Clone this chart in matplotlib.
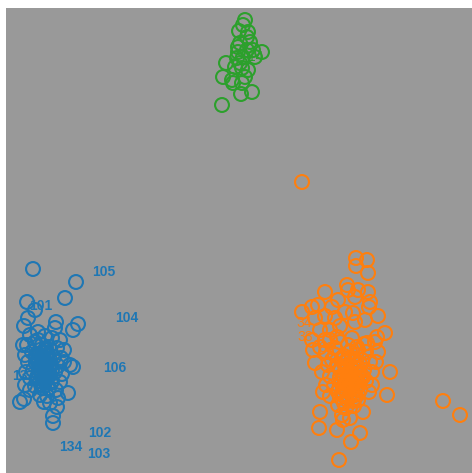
import matplotlib.pyplot as plt

# point positions (x to the right, y downwards)
blue_x = [33, 76, 65, 27, 35, 24, 56, 55, 78, 73, 70, 73, 20, 24, 68, 53, 53, 57, 50,
          30, 38, 45, 52, 60, 27, 35, 42, 49, 57, 64, 25, 32, 40, 47, 54, 61, 28, 36,
          43, 50, 58, 33, 40, 47, 55, 62, 30, 38, 45, 52, 60, 35, 42, 49, 56, 40, 47,
          44, 38, 45, 50, 42, 36, 48, 26, 30, 64, 58, 28, 23, 25,
          # dense core
          40, 44, 48, 42, 46, 50, 38, 43, 47, 41, 45, 49, 39, 44, 48, 42, 46, 37, 43,
          47, 40, 45, 51, 36, 42, 46, 50, 41, 44, 48, 39, 45, 52, 43, 47]
blue_y = [269, 282, 298, 302, 310, 326, 322, 328, 324, 330, 365, 367, 402, 399, 393, 416, 423, 407, 403,
          335, 332, 336, 338, 340, 345, 342, 345, 347, 348, 350, 355, 352, 355, 356, 357, 358, 362, 363,
          361, 364, 366, 370, 370, 371, 372, 374, 378, 378, 380, 381, 382, 386, 388, 388, 390, 395, 396,
          402, 340, 350, 375, 365, 358, 360, 372, 390, 362, 398, 318, 345, 385,
          350, 352, 354, 357, 358, 360, 362, 363, 364, 366, 367, 368, 370, 371, 372, 374, 375, 377, 378,
          379, 381, 382, 383, 355, 356, 348, 367, 385, 386, 374, 360, 362, 370, 353, 377]

orange_x = [302, 443, 460, 339,
            356, 367, 356, 368, 347, 348, 358, 368, 355, 325, 370, 369, 312, 302, 318, 332,
            378, 353, 365, 355, 385, 377, 378, 375, 313, 315, 390, 387, 320, 319, 337, 343,
            360, 351, 363, 323, 337, 352, 320, 357, 367,
            330, 340, 348, 358, 366, 326, 335, 344, 352, 362, 370, 328, 338, 346, 355, 364,
            372, 330, 340, 348, 357, 366, 334, 343, 352, 360, 369, 330, 340, 349, 358, 338,
            346, 354, 342, 350, 322, 376, 332, 350, 345, 355, 338, 361, 326, 372, 335, 364,
            345, 352,
            315, 325, 335, 320, 330, 340, 345, 338, 312, 325,
            # dense core
            342, 348, 354, 360, 345, 351, 357, 340, 346, 352, 358, 343, 349, 355, 361, 341,
            347, 353, 359, 344, 350, 356, 339, 346, 352, 358, 343, 349, 355, 347, 353, 337,
            363, 350, 344, 356]
orange_y = [182, 401, 415, 460,
            258, 260, 266, 273, 285, 290, 290, 292, 297, 292, 302, 307, 307, 312, 305, 307,
            316, 313, 320, 322, 333, 337, 352, 342, 350, 363, 372, 395, 412, 428, 430, 420,
            433, 442, 412, 392, 337, 338, 347, 347, 343,
            340, 342, 345, 350, 352, 352, 355, 356, 358, 360, 362, 365, 366, 368, 368, 370,
            372, 376, 377, 378, 380, 381, 386, 388, 388, 390, 392, 396, 397, 398, 400, 405,
            408, 406, 415, 418, 372, 362, 360, 372, 383, 395, 392, 375, 385, 385, 348, 344,
            362, 382,
            318, 316, 318, 330, 330, 326, 312, 300, 340, 340,
            358, 360, 362, 364, 366, 367, 368, 370, 371, 373, 374, 375, 377, 378, 379, 381,
            382, 383, 385, 386, 387, 389, 390, 391, 393, 394, 395, 397, 398, 400, 401, 365,
            377, 352, 403, 355]

green_x = [245, 243, 239, 248, 247, 240, 250, 262, 253, 238, 243, 237, 255, 226, 235,
           242, 248, 223, 232, 245, 242, 233, 241, 252, 222, 238, 247, 240]
green_y = [20, 25, 31, 32, 37, 43, 42, 52, 50, 52, 57, 58, 57, 63, 67,
           68, 70, 77, 80, 77, 83, 83, 94, 92, 105, 47, 50, 63]

blue_labels = ["105", "101", "104", "106", "13", "102", "134", "103"]
blue_label_x = [92, 29, 115, 103, 12, 88, 59, 87]
blue_label_y = [272, 306, 318, 368, 376, 433, 447, 454]

orange_labels = ["34", "33", "32"]
orange_label_x = [296, 297, 318]
orange_label_y = [323, 337, 348]

green_labels = ["14"]
green_label_x = [248]
green_label_y = [57]

W, H = 472, 473
fig = plt.figure(figsize=(W / 100, H / 100), dpi=100)
ax = fig.add_axes([6 / W, 0, 466 / W, 465 / H])
ax.set_facecolor("#999999")
ax.set_xlim(6, 472)
ax.set_ylim(473, 8)
ax.set_xticks([])
ax.set_yticks([])
for s in ax.spines.values():
    s.set_visible(False)

for xs, ys, c in [(blue_x, blue_y, "#1f77b4"),
                  (orange_x, orange_y, "#ff7f0e"),
                  (green_x, green_y, "#2ca02c")]:
    ax.scatter(xs, ys, s=100, facecolors="none", edgecolors=c,
               linewidths=1.5, zorder=3)

for labs, lx, ly, c, w in [(blue_labels, blue_label_x, blue_label_y, "#1f77b4", "bold"),
                           (orange_labels, orange_label_x, orange_label_y, "#ff7f0e", "normal"),
                           (green_labels, green_label_x, green_label_y, "#2ca02c", "normal")]:
    for t, x, y in zip(labs, lx, ly):
        ax.text(x, y, t, color=c, fontsize=10, fontweight=w,
                family="Liberation Sans", ha="left", va="center", zorder=2)

fig.savefig("out.png", dpi=100)
